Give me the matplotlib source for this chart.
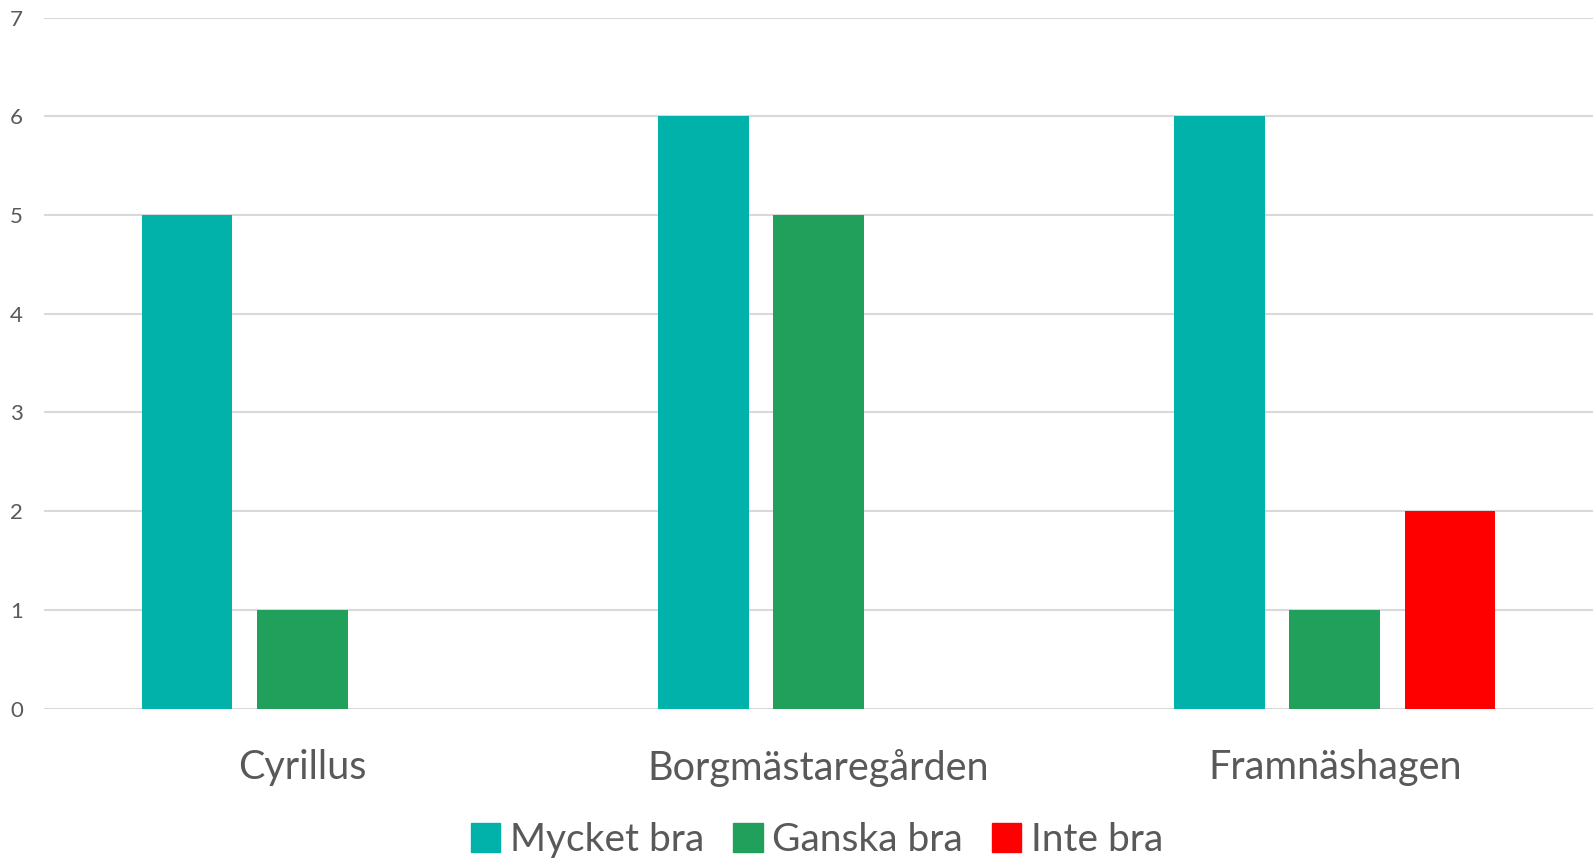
import numpy as np
import matplotlib.pyplot as plt
from matplotlib.patches import Patch

# data
categories = ['Cyrillus', 'Borgmästaregården', 'Framnäshagen']
series = ['Mycket bra', 'Ganska bra', 'Inte bra']
mycket_bra = [5, 6, 6]
ganska_bra = [1, 5, 1]
inte_bra = [0, 0, 2]
colors = ['#00B2AA', '#21A05B', '#FF0000']

plt.rcParams['font.family'] = ['Lato', 'DejaVu Sans']

fig = plt.figure(figsize=(15.93, 8.58), dpi=100)
ax = fig.add_axes([0.0276, 0.1742, 0.9724, 0.8052])

x = np.arange(len(categories))
width = 0.176
step = 0.223
for i, vals in enumerate([mycket_bra, ganska_bra, inte_bra]):
    ax.bar(x + (i - 1) * step, vals, width, color=colors[i], zorder=3)

ax.set_xlim(-0.5, 2.5)
ax.set_ylim(0, 7)
ax.set_yticks(range(0, 8))
ax.set_xticks(x)
ax.set_xticklabels(categories)

ax.grid(axis='y', color='#d9d9d9', linewidth=1.5, zorder=0)
for s in ax.spines.values():
    s.set_visible(False)
ax.tick_params(axis='y', length=0, pad=15, labelsize=16, labelcolor='#595959')
ax.tick_params(axis='x', length=0, pad=29, labelsize=28.5, labelcolor='#595959')

handles = [Patch(color=c, label=s) for c, s in zip(colors, series)]
leg = fig.legend(handles=handles, loc='center', bbox_to_anchor=(0.513, 0.021),
                 ncol=3, frameon=False, fontsize=28, handlelength=0.75,
                 handleheight=0.75, handletextpad=0.25, columnspacing=0.75)
for t in leg.get_texts():
    t.set_color('#595959')

fig.savefig('out.png', dpi=100)
